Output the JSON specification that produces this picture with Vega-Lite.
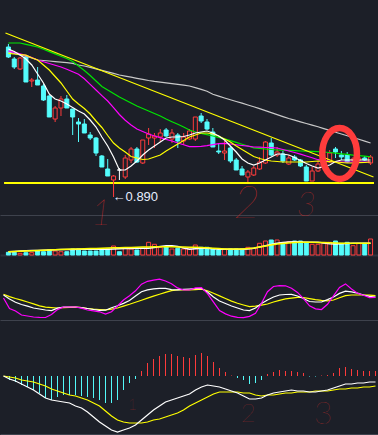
{
  "$schema": "https://vega.github.io/schema/vega-lite/v6.json",
  "background": "#1c1f28",
  "padding": 0,
  "spacing": 0,
  "bounds": "flush",
  "config": {
    "view": {"stroke": null},
    "axis": {"labels": false, "ticks": false, "domain": false, "grid": false, "title": null}
  },
  "datasets": {
    "k": [
      {"i":0,"o":1.025,"h":1.028,"l":1.014,"c":1.015,"m5":1.023,"m10":1.0187,"m20":1.0212,"m30":1.029,"m60":1.020,"v":270,"vm5":330,"vm10":330,"k":50,"d":52,"j":42.5,"dif":0,"dea":0,"macd":0},
      {"i":1,"o":1.013,"h":1.015,"l":1.003,"c":1.005,"m5":1.0205,"m10":1.018,"m20":1.0197,"m30":1.029,"m60":1.0186,"v":270,"vm5":360,"vm10":350,"k":40,"d":46,"j":16.25,"dif":-0.003,"dea":-0.001,"macd":-0.004},
      {"i":2,"o":1.003,"h":1.015,"l":1.002,"c":1.014,"m5":1.017,"m10":1.0175,"m20":1.0182,"m30":1.029,"m60":1.0172,"v":170,"vm5":390,"vm10":380,"k":31.75,"d":41.25,"j":10,"dif":-0.005,"dea":-0.002,"macd":-0.006},
      {"i":3,"o":1.015,"h":1.016,"l":0.990,"c":0.990,"m5":1.013,"m10":1.0168,"m20":1.0166,"m30":1.0277,"m60":1.0158,"v":230,"vm5":420,"vm10":400,"k":26.25,"d":37,"j":0,"dif":-0.008,"dea":-0.004,"macd":-0.009},
      {"i":4,"o":0.991,"h":0.994,"l":0.985,"c":0.992,"m5":1.007,"m10":1.0143,"m20":1.0145,"m30":1.0263,"m60":1.014,"v":230,"vm5":440,"vm10":430,"k":22,"d":32.5,"j":-2.5,"dif":-0.011,"dea":-0.005,"macd":-0.011},
      {"i":5,"o":0.992,"h":1.005,"l":0.987,"c":0.987,"m5":0.998,"m10":1.012,"m20":1.012,"m30":1.025,"m60":1.012,"v":400,"vm5":460,"vm10":450,"k":17.5,"d":27.75,"j":-5,"dif":-0.014,"dea":-0.006,"macd":-0.014},
      {"i":6,"o":0.986,"h":0.988,"l":0.971,"c":0.972,"m5":0.989,"m10":1.007,"m20":1.0102,"m30":1.0227,"m60":1.0115,"v":330,"vm5":480,"vm10":470,"k":15,"d":23,"j":-6,"dif":-0.018,"dea":-0.008,"macd":-0.017},
      {"i":7,"o":0.976,"h":0.977,"l":0.955,"c":0.955,"m5":0.978,"m10":1.002,"m20":1.0085,"m30":1.0204,"m60":1.011,"v":500,"vm5":500,"vm10":500,"k":12.5,"d":19.75,"j":-6.25,"dif":-0.022,"dea":-0.010,"macd":-0.022},
      {"i":8,"o":0.953,"h":0.966,"l":0.950,"c":0.964,"m5":0.973,"m10":0.9955,"m20":1.0067,"m30":1.0181,"m60":1.0104,"v":400,"vm5":520,"vm10":520,"k":11,"d":18.5,"j":1.25,"dif":-0.024,"dea":-0.013,"macd":-0.024},
      {"i":9,"o":0.964,"h":0.976,"l":0.956,"c":0.973,"m5":0.971,"m10":0.989,"m20":1.005,"m30":1.0158,"m60":1.0099,"v":330,"vm5":540,"vm10":550,"k":17,"d":17.5,"j":13.5,"dif":-0.025,"dea":-0.015,"macd":-0.021},
      {"i":10,"o":0.973,"h":0.977,"l":0.964,"c":0.964,"m5":0.968,"m10":0.981,"m20":1.0028,"m30":1.0135,"m60":1.0094,"v":330,"vm5":550,"vm10":570,"k":20,"d":18.25,"j":20,"dif":-0.026,"dea":-0.017,"macd":-0.019},
      {"i":11,"o":0.963,"h":0.963,"l":0.937,"c":0.955,"m5":0.9645,"m10":0.973,"m20":1.0003,"m30":1.0105,"m60":1.0086,"v":600,"vm5":560,"vm10":590,"k":20,"d":19,"j":20,"dif":-0.027,"dea":-0.019,"macd":-0.019},
      {"i":12,"o":0.950,"h":0.954,"l":0.930,"c":0.948,"m5":0.961,"m10":0.968,"m20":0.9978,"m30":1.006,"m60":1.007,"v":600,"vm5":570,"vm10":610,"k":20,"d":19.75,"j":20,"dif":-0.030,"dea":-0.020,"macd":-0.019},
      {"i":13,"o":0.948,"h":0.953,"l":0.939,"c":0.939,"m5":0.958,"m10":0.9635,"m20":0.9932,"m30":1.0015,"m60":1.006,"v":400,"vm5":570,"vm10":630,"k":18.5,"d":18.5,"j":17,"dif":-0.032,"dea":-0.022,"macd":-0.020},
      {"i":14,"o":0.937,"h":0.940,"l":0.932,"c":0.934,"m5":0.952,"m10":0.958,"m20":0.9876,"m30":0.9965,"m60":1.0047,"v":400,"vm5":570,"vm10":650,"k":16.25,"d":16.25,"j":12.5,"dif":-0.036,"dea":-0.024,"macd":-0.021},
      {"i":15,"o":0.934,"h":0.935,"l":0.916,"c":0.919,"m5":0.945,"m10":0.951,"m20":0.982,"m30":0.991,"m60":1.0032,"v":400,"vm5":570,"vm10":660,"k":13.75,"d":14.5,"j":10.25,"dif":-0.041,"dea":-0.027,"macd":-0.022},
      {"i":16,"o":0.916,"h":0.917,"l":0.905,"c":0.905,"m5":0.935,"m10":0.9445,"m20":0.9764,"m30":0.9855,"m60":1.0017,"v":600,"vm5":570,"vm10":680,"k":11.5,"d":13.75,"j":8,"dif":-0.046,"dea":-0.030,"macd":-0.024},
      {"i":17,"o":0.903,"h":0.913,"l":0.896,"c":0.896,"m5":0.926,"m10":0.9365,"m20":0.971,"m30":0.982,"m60":1.0001,"v":600,"vm5":580,"vm10":700,"k":12,"d":12.75,"j":2.5,"dif":-0.050,"dea":-0.035,"macd":-0.027},
      {"i":18,"o":0.892,"h":0.897,"l":0.890,"c":0.896,"m5":0.915,"m10":0.929,"m20":0.9644,"m30":0.9785,"m60":0.9986,"v":900,"vm5":600,"vm10":720,"k":18,"d":14.5,"j":8.25,"dif":-0.054,"dea":-0.040,"macd":-0.027},
      {"i":19,"o":0.902,"h":0.904,"l":0.892,"c":0.902,"m5":0.902,"m10":0.924,"m20":0.9575,"m30":0.975,"m60":0.997,"v":330,"vm5":620,"vm10":730,"k":23,"d":17.5,"j":22.5,"dif":-0.056,"dea":-0.044,"macd":-0.024},
      {"i":20,"o":0.895,"h":0.917,"l":0.893,"c":0.914,"m5":0.902,"m10":0.920,"m20":0.9517,"m30":0.972,"m60":0.9959,"v":670,"vm5":640,"vm10":740,"k":29,"d":22.25,"j":37.5,"dif":-0.054,"dea":-0.046,"macd":-0.014},
      {"i":21,"o":0.912,"h":0.925,"l":0.909,"c":0.923,"m5":0.906,"m10":0.9155,"m20":0.947,"m30":0.969,"m60":0.9948,"v":600,"vm5":660,"vm10":760,"k":36.25,"d":26.75,"j":48,"dif":-0.052,"dea":-0.047,"macd":-0.007},
      {"i":22,"o":0.923,"h":0.925,"l":0.909,"c":0.910,"m5":0.911,"m10":0.914,"m20":0.943,"m30":0.966,"m60":0.9937,"v":500,"vm5":670,"vm10":780,"k":47.5,"d":31.75,"j":60.5,"dif":-0.049,"dea":-0.047,"macd":-0.003},
      {"i":23,"o":0.909,"h":0.932,"l":0.908,"c":0.932,"m5":0.917,"m10":0.9125,"m20":0.9405,"m30":0.9635,"m60":0.9926,"v":670,"vm5":670,"vm10":800,"k":58.25,"d":37,"j":77,"dif":-0.044,"dea":-0.047,"macd":0.005},
      {"i":24,"o":0.934,"h":0.944,"l":0.927,"c":0.938,"m5":0.922,"m10":0.913,"m20":0.938,"m30":0.961,"m60":0.9915,"v":1270,"vm5":670,"vm10":810,"k":62.75,"d":42.25,"j":84.25,"dif":-0.039,"dea":-0.046,"macd":0.013},
      {"i":25,"o":0.934,"h":0.939,"l":0.924,"c":0.936,"m5":0.926,"m10":0.915,"m20":0.936,"m30":0.9585,"m60":0.9906,"v":1070,"vm5":750,"vm10":820,"k":65.5,"d":47.25,"j":87,"dif":-0.034,"dea":-0.044,"macd":0.017},
      {"i":26,"o":0.935,"h":0.943,"l":0.930,"c":0.939,"m5":0.930,"m10":0.917,"m20":0.9344,"m30":0.956,"m60":0.9899,"v":770,"vm5":850,"vm10":830,"k":66.75,"d":51.75,"j":89.5,"dif":-0.030,"dea":-0.043,"macd":0.020},
      {"i":27,"o":0.942,"h":0.944,"l":0.935,"c":0.936,"m5":0.934,"m10":0.921,"m20":0.9326,"m30":0.953,"m60":0.9891,"v":830,"vm5":930,"vm10":830,"k":66.5,"d":56.5,"j":85,"dif":-0.026,"dea":-0.041,"macd":0.022},
      {"i":28,"o":0.933,"h":0.943,"l":0.929,"c":0.939,"m5":0.935,"m10":0.9245,"m20":0.931,"m30":0.9503,"m60":0.9884,"v":600,"vm5":930,"vm10":820,"k":63.5,"d":61,"j":78.25,"dif":-0.024,"dea":-0.039,"macd":0.022},
      {"i":29,"o":0.937,"h":0.939,"l":0.924,"c":0.931,"m5":0.935,"m10":0.928,"m20":0.929,"m30":0.9477,"m60":0.9876,"v":670,"vm5":850,"vm10":810,"k":63,"d":62.5,"j":67.75,"dif":-0.022,"dea":-0.037,"macd":0.020},
      {"i":30,"o":0.931,"h":0.939,"l":0.927,"c":0.935,"m5":0.9355,"m10":0.9315,"m20":0.9273,"m30":0.945,"m60":0.9869,"v":600,"vm5":700,"vm10":800,"k":64,"d":62.5,"j":62.5,"dif":-0.020,"dea":-0.034,"macd":0.019},
      {"i":31,"o":0.933,"h":0.943,"l":0.932,"c":0.941,"m5":0.937,"m10":0.935,"m20":0.9254,"m30":0.942,"m60":0.986,"v":600,"vm5":580,"vm10":780,"k":65,"d":62.5,"j":62.5,"dif":-0.018,"dea":-0.030,"macd":0.018},
      {"i":32,"o":0.933,"h":0.955,"l":0.931,"c":0.955,"m5":0.939,"m10":0.937,"m20":0.9253,"m30":0.940,"m60":0.9844,"v":1000,"vm5":620,"vm10":770,"k":66.25,"d":63.5,"j":67.75,"dif":-0.014,"dea":-0.027,"macd":0.021},
      {"i":33,"o":0.956,"h":0.959,"l":0.949,"c":0.951,"m5":0.940,"m10":0.939,"m20":0.9257,"m30":0.9386,"m60":0.9826,"v":770,"vm5":670,"vm10":750,"k":66,"d":64.5,"j":68.25,"dif":-0.011,"dea":-0.024,"macd":0.023},
      {"i":34,"o":0.950,"h":0.953,"l":0.942,"c":0.943,"m5":0.941,"m10":0.939,"m20":0.9263,"m30":0.9373,"m60":0.9807,"v":770,"vm5":670,"vm10":720,"k":57.5,"d":60.75,"j":53.25,"dif":-0.009,"dea":-0.021,"macd":0.020},
      {"i":35,"o":0.940,"h":0.944,"l":0.925,"c":0.925,"m5":0.939,"m10":0.938,"m20":0.9273,"m30":0.936,"m60":0.9778,"v":600,"vm5":620,"vm10":680,"k":45,"d":54.25,"j":32,"dif":-0.010,"dea":-0.018,"macd":0.014},
      {"i":36,"o":0.921,"h":0.928,"l":0.918,"c":0.920,"m5":0.936,"m10":0.936,"m20":0.9284,"m30":0.9347,"m60":0.9759,"v":500,"vm5":570,"vm10":640,"k":35,"d":47.75,"j":11,"dif":-0.011,"dea":-0.016,"macd":0.008},
      {"i":37,"o":0.919,"h":0.931,"l":0.912,"c":0.921,"m5":0.932,"m10":0.933,"m20":0.9286,"m30":0.9331,"m60":0.974,"v":600,"vm5":570,"vm10":600,"k":28.75,"d":41.25,"j":2.75,"dif":-0.013,"dea":-0.016,"macd":0.004},
      {"i":38,"o":0.924,"h":0.926,"l":0.909,"c":0.911,"m5":0.926,"m10":0.930,"m20":0.928,"m30":0.9314,"m60":0.9722,"v":600,"vm5":570,"vm10":600,"k":22.5,"d":34.75,"j":-3,"dif":-0.015,"dea":-0.016,"macd":0.0005},
      {"i":39,"o":0.912,"h":0.914,"l":0.902,"c":0.902,"m5":0.920,"m10":0.926,"m20":0.9272,"m30":0.9296,"m60":0.9705,"v":600,"vm5":570,"vm10":600,"k":17.5,"d":29.5,"j":-5.75,"dif":-0.017,"dea":-0.016,"macd":-0.002},
      {"i":40,"o":0.903,"h":0.906,"l":0.897,"c":0.897,"m5":0.913,"m10":0.9225,"m20":0.9265,"m30":0.9278,"m60":0.9688,"v":600,"vm5":570,"vm10":600,"k":12.5,"d":25,"j":-6.75,"dif":-0.020,"dea":-0.017,"macd":-0.004},
      {"i":41,"o":0.895,"h":0.902,"l":0.890,"c":0.900,"m5":0.909,"m10":0.919,"m20":0.9258,"m30":0.926,"m60":0.967,"v":770,"vm5":600,"vm10":650,"k":11,"d":20.75,"j":-3.5,"dif":-0.023,"dea":-0.017,"macd":-0.008},
      {"i":42,"o":0.897,"h":0.906,"l":0.896,"c":0.904,"m5":0.907,"m10":0.9155,"m20":0.925,"m30":0.9242,"m60":0.9653,"v":670,"vm5":670,"vm10":700,"k":17.5,"d":22.25,"j":4.5,"dif":-0.023,"dea":-0.019,"macd":-0.007},
      {"i":43,"o":0.903,"h":0.915,"l":0.902,"c":0.910,"m5":0.909,"m10":0.9135,"m20":0.9248,"m30":0.9236,"m60":0.9634,"v":1170,"vm5":800,"vm10":800,"k":28.75,"d":24.75,"j":29.25,"dif":-0.022,"dea":-0.020,"macd":-0.004},
      {"i":44,"o":0.909,"h":0.931,"l":0.908,"c":0.930,"m5":0.912,"m10":0.912,"m20":0.9245,"m30":0.923,"m60":0.9614,"v":1400,"vm5":930,"vm10":900,"k":37.5,"d":27.5,"j":58.25,"dif":-0.019,"dea":-0.019,"macd":0.002},
      {"i":45,"o":0.929,"h":0.934,"l":0.916,"c":0.917,"m5":0.915,"m10":0.911,"m20":0.9243,"m30":0.9225,"m60":0.9594,"v":1500,"vm5":1050,"vm10":1000,"k":45,"d":32.5,"j":71.25,"dif":-0.017,"dea":-0.019,"macd":0.004},
      {"i":46,"o":0.917,"h":0.925,"l":0.915,"c":0.920,"m5":0.918,"m10":0.9105,"m20":0.924,"m30":0.922,"m60":0.9574,"v":1500,"vm5":1170,"vm10":1100,"k":50,"d":36.75,"j":73.5,"dif":-0.016,"dea":-0.018,"macd":0.006},
      {"i":47,"o":0.918,"h":0.921,"l":0.909,"c":0.911,"m5":0.918,"m10":0.910,"m20":0.9225,"m30":0.9218,"m60":0.9554,"v":1170,"vm5":1250,"vm10":1150,"k":51.25,"d":40.5,"j":73,"dif":-0.015,"dea":-0.017,"macd":0.005},
      {"i":48,"o":0.908,"h":0.917,"l":0.907,"c":0.914,"m5":0.917,"m10":0.910,"m20":0.921,"m30":0.9216,"m60":0.9535,"v":1330,"vm5":1310,"vm10":1200,"k":51.75,"d":42.25,"j":67,"dif":-0.014,"dea":-0.017,"macd":0.005},
      {"i":49,"o":0.915,"h":0.917,"l":0.911,"c":0.912,"m5":0.9145,"m10":0.910,"m20":0.9195,"m30":0.9213,"m60":0.9519,"v":1400,"vm5":1330,"vm10":1240,"k":47.5,"d":44,"j":56.5,"dif":-0.015,"dea":-0.016,"macd":0.004},
      {"i":50,"o":0.912,"h":0.913,"l":0.905,"c":0.906,"m5":0.9115,"m10":0.910,"m20":0.9178,"m30":0.921,"m60":0.9502,"v":1400,"vm5":1300,"vm10":1270,"k":41.25,"d":43.75,"j":41,"dif":-0.015,"dea":-0.016,"macd":0.003},
      {"i":51,"o":0.905,"h":0.907,"l":0.891,"c":0.891,"m5":0.9085,"m10":0.910,"m20":0.916,"m30":0.9208,"m60":0.9485,"v":1270,"vm5":1270,"vm10":1270,"k":33.75,"d":41,"j":23,"dif":-0.016,"dea":-0.016,"macd":-0.0005},
      {"i":52,"o":0.891,"h":0.905,"l":0.891,"c":0.901,"m5":0.906,"m10":0.9105,"m20":0.9142,"m30":0.9206,"m60":0.9469,"v":1070,"vm5":1270,"vm10":1270,"k":32.5,"d":38.5,"j":15.5,"dif":-0.016,"dea":-0.015,"macd":-0.0005},
      {"i":53,"o":0.901,"h":0.911,"l":0.900,"c":0.908,"m5":0.904,"m10":0.911,"m20":0.9123,"m30":0.9203,"m60":0.9453,"v":1070,"vm5":1270,"vm10":1260,"k":32.5,"d":36.75,"j":13.75,"dif":-0.015,"dea":-0.015,"macd":0.0005},
      {"i":54,"o":0.909,"h":0.915,"l":0.906,"c":0.912,"m5":0.9055,"m10":0.9107,"m20":0.9114,"m30":0.920,"m60":0.9434,"v":1170,"vm5":1200,"vm10":1240,"k":38.5,"d":35.5,"j":26.75,"dif":-0.014,"dea":-0.015,"macd":0.001},
      {"i":55,"o":0.910,"h":0.922,"l":0.909,"c":0.919,"m5":0.907,"m10":0.9103,"m20":0.9107,"m30":0.9195,"m60":0.9416,"v":1270,"vm5":1120,"vm10":1220,"k":45,"d":37.5,"j":48,"dif":-0.012,"dea":-0.014,"macd":0.003},
      {"i":56,"o":0.923,"h":0.925,"l":0.914,"c":0.920,"m5":0.9105,"m10":0.910,"m20":0.910,"m30":0.9189,"m60":0.9398,"v":1400,"vm5":1100,"vm10":1200,"k":54,"d":43,"j":69,"dif":-0.010,"dea":-0.013,"macd":0.008},
      {"i":57,"o":0.917,"h":0.921,"l":0.912,"c":0.915,"m5":0.912,"m10":0.9095,"m20":0.910,"m30":0.9182,"m60":0.938,"v":1170,"vm5":1130,"vm10":1180,"k":59.5,"d":48.25,"j":77.75,"dif":-0.008,"dea":-0.013,"macd":0.009},
      {"i":58,"o":0.917,"h":0.920,"l":0.909,"c":0.910,"m5":0.912,"m10":0.909,"m20":0.910,"m30":0.9176,"m60":0.9362,"v":1270,"vm5":1160,"vm10":1170,"k":58,"d":50,"j":65,"dif":-0.008,"dea":-0.012,"macd":0.007},
      {"i":59,"o":0.912,"h":0.915,"l":0.910,"c":0.913,"m5":0.912,"m10":0.909,"m20":0.910,"m30":0.9169,"m60":0.9344,"v":930,"vm5":1170,"vm10":1170,"k":54.5,"d":50,"j":54.5,"dif":-0.007,"dea":-0.012,"macd":0.006},
      {"i":60,"o":0.912,"h":0.917,"l":0.910,"c":0.914,"m5":0.912,"m10":0.9093,"m20":0.910,"m30":0.9164,"m60":0.9328,"v":1170,"vm5":1170,"vm10":1170,"k":50,"d":50,"j":49.25,"dif":-0.007,"dea":-0.011,"macd":0.005},
      {"i":61,"o":0.914,"h":0.916,"l":0.911,"c":0.912,"m5":0.912,"m10":0.9095,"m20":0.910,"m30":0.9158,"m60":0.9309,"v":1170,"vm5":1170,"vm10":1170,"k":46.75,"d":49.5,"j":43.5,"dif":-0.006,"dea":-0.011,"macd":0.005},
      {"i":62,"o":0.909,"h":0.917,"l":0.907,"c":0.915,"m5":0.912,"m10":0.910,"m20":0.910,"m30":0.9152,"m60":0.929,"v":1600,"vm5":1170,"vm10":1170,"k":45,"d":48.25,"j":44,"dif":-0.006,"dea":-0.010,"macd":0.005}
    ],
    "trend": [{"i":-0.5,"p":1.039},{"i":62.5,"p":0.895}]
  },
  "vconcat": [
    {
      "width": 378,
      "height": 215,
      "data": {"name": "k"},
      "encoding": {
        "x": {"field": "i", "type": "quantitative", "scale": {"domain": [-0.5833, 62.4167], "nice": false, "zero": false},
              "axis": {"orient": "bottom", "domain": true, "domainColor": "#3e424d", "domainWidth": 1}, "title": null}
      },
      "layer": [
        {
          "mark": {"type": "rule", "strokeWidth": 1},
          "encoding": {
            "y": {"field": "l", "type": "quantitative", "scale": {"domain": [0.857, 1.072], "nice": false, "zero": false},
                  "axis": {"grid": true, "values": [1.062, 1.025, 0.988, 0.950, 0.913, 0.876], "gridColor": "#4c515e", "gridDash": [1, 4], "gridWidth": 1}, "title": null},
            "y2": {"field": "h"},
            "color": {"condition": [{"test": "datum.c > datum.o", "value": "#ff3c3c"}, {"test": "datum.c == datum.o", "value": "#ffffff"}], "value": "#54fcfc"}
          }
        },
        {
          "mark": {"type": "bar", "size": 4, "strokeWidth": 1},
          "encoding": {
            "y": {"field": "o", "type": "quantitative", "axis": null},
            "y2": {"field": "c"},
            "fill": {"condition": [{"test": "datum.c > datum.o", "value": "#1c1f28"}, {"test": "datum.c == datum.o", "value": "#ffffff"}], "value": "#54fcfc"},
            "stroke": {"condition": [{"test": "datum.c > datum.o", "value": "#ff3c3c"}, {"test": "datum.c == datum.o", "value": "#ffffff"}], "value": "#54fcfc"}
          }
        },
        {"mark": {"type": "line", "color": "#c8c8c8", "strokeWidth": 1.2}, "encoding": {"y": {"field": "m60", "type": "quantitative", "axis": null}}},
        {"mark": {"type": "line", "color": "#00e600", "strokeWidth": 1.2}, "encoding": {"y": {"field": "m30", "type": "quantitative", "axis": null}}},
        {"mark": {"type": "line", "color": "#ff00ff", "strokeWidth": 1.2}, "encoding": {"y": {"field": "m20", "type": "quantitative", "axis": null}}},
        {"mark": {"type": "line", "color": "#ffff00", "strokeWidth": 1.2}, "encoding": {"y": {"field": "m10", "type": "quantitative", "axis": null}}},
        {"mark": {"type": "line", "color": "#ffffff", "strokeWidth": 1.2}, "encoding": {"y": {"field": "m5", "type": "quantitative", "axis": null}}},
        {"data": {"name": "trend"}, "mark": {"type": "line", "color": "#ffff00", "strokeWidth": 1.2}, "encoding": {"y": {"field": "p", "type": "quantitative", "axis": null}}},
        {"mark": {"type": "rule", "color": "#ffff00", "strokeWidth": 1.5}, "encoding": {"y": {"datum": 0.889}, "x": {"datum": -0.6}, "x2": {"datum": 62.5}}},
        {"data": {"values": [{"i": 18, "p1": 0.890, "p2": 0.875}]}, "mark": {"type": "rule", "color": "#ff3c3c", "strokeWidth": 1}, "encoding": {"y": {"field": "p1", "type": "quantitative", "axis": null}, "y2": {"field": "p2"}}},
        {"data": {"values": [{"i": 18, "p": 0.875, "t": "←0.890"}]}, "mark": {"type": "text", "align": "left", "baseline": "middle", "dx": -1, "font": "Liberation Sans", "fontSize": 13, "color": "#e6eeff"}, "encoding": {"y": {"field": "p", "type": "quantitative", "axis": null}, "text": {"field": "t"}}},
        {"data": {"values": [{"i": 15.9, "p": 0.858, "t": "1"}]}, "mark": {"type": "text", "align": "center", "baseline": "middle", "font": "DejaVu Sans ExtraLight, Lato, DejaVu Sans", "fontWeight": 200, "fontStyle": "italic", "fontSize": 36, "color": "#d02c2c"}, "encoding": {"y": {"field": "p", "type": "quantitative", "axis": null}, "text": {"field": "t"}}},
        {"data": {"values": [{"i": 40.8, "p": 0.868, "t": "2"}]}, "mark": {"type": "text", "align": "center", "baseline": "middle", "font": "DejaVu Sans ExtraLight, Lato, DejaVu Sans", "fontWeight": 200, "fontStyle": "italic", "fontSize": 46, "color": "#b82a2a"}, "encoding": {"y": {"field": "p", "type": "quantitative", "axis": null}, "text": {"field": "t"}}},
        {"data": {"values": [{"i": 51, "p": 0.866, "t": "3"}]}, "mark": {"type": "text", "align": "center", "baseline": "middle", "font": "DejaVu Sans ExtraLight, Lato, DejaVu Sans", "fontWeight": 200, "fontStyle": "italic", "fontSize": 34, "color": "#b02a2a"}, "encoding": {"y": {"field": "p", "type": "quantitative", "axis": null}, "text": {"field": "t"}}},
        {"data": {"values": [{"i": 56.7, "p": 0.9185}]}, "mark": {"type": "point", "shape": "M-0.68,0A0.68,1,0,1,0,0.68,0A0.68,1,0,1,0,-0.68,0Z", "size": 2600, "filled": false, "stroke": "#ff3c3c", "strokeWidth": 6.5, "opacity": 1}, "encoding": {"y": {"field": "p", "type": "quantitative", "axis": null}}}
      ]
    },
    {
      "width": 378,
      "height": 40,
      "data": {"name": "k"},
      "encoding": {
        "x": {"field": "i", "type": "quantitative", "scale": {"domain": [-0.5833, 62.4167], "nice": false, "zero": false},
              "axis": {"orient": "bottom", "domain": true, "domainColor": "#2e323c", "domainWidth": 2}, "title": null}
      },
      "layer": [
        {
          "mark": {"type": "bar", "size": 4, "strokeWidth": 1},
          "encoding": {
            "y": {"field": "v", "type": "quantitative", "scale": {"domain": [0, 4000], "nice": false},
                  "axis": {"grid": true, "values": [1400], "gridColor": "#4c515e", "gridDash": [1, 4]}, "title": null},
            "fill": {"condition": {"test": "datum.c > datum.o", "value": "#1c1f28"}, "value": "#54fcfc"},
            "stroke": {"condition": {"test": "datum.c > datum.o", "value": "#ff3c3c"}, "value": "#54fcfc"}
          }
        },
        {"mark": {"type": "line", "color": "#ffffff", "strokeWidth": 1.5}, "encoding": {"y": {"field": "vm5", "type": "quantitative", "axis": null}}},
        {"mark": {"type": "line", "color": "#ffff00", "strokeWidth": 1.5}, "encoding": {"y": {"field": "vm10", "type": "quantitative", "axis": null}}}
      ]
    },
    {
      "width": 378,
      "height": 65,
      "data": {"name": "k"},
      "encoding": {
        "x": {"field": "i", "type": "quantitative", "scale": {"domain": [-0.5833, 62.4167], "nice": false, "zero": false},
              "axis": {"orient": "bottom", "domain": true, "domainColor": "#3e424d", "domainWidth": 1}, "title": null}
      },
      "layer": [
        {"mark": {"type": "line", "color": "#ffff00", "strokeWidth": 1.2},
         "encoding": {"y": {"field": "d", "type": "quantitative", "scale": {"domain": [-12.5, 150], "nice": false, "zero": false},
                            "axis": {"grid": true, "values": [20, 50, 80], "gridColor": "#4c515e", "gridDash": [1, 4]}, "title": null}}},
        {"mark": {"type": "line", "color": "#ffffff", "strokeWidth": 1.2}, "encoding": {"y": {"field": "k", "type": "quantitative", "axis": null}}},
        {"mark": {"type": "line", "color": "#ff00ff", "strokeWidth": 1.2}, "encoding": {"y": {"field": "j", "type": "quantitative", "axis": null}}}
      ]
    },
    {
      "width": 378,
      "height": 114,
      "data": {"name": "k"},
      "encoding": {
        "x": {"field": "i", "type": "quantitative", "scale": {"domain": [-0.5833, 62.4167], "nice": false, "zero": false},
              "axis": {"orient": "bottom", "domain": true, "domainColor": "#3e424d", "domainWidth": 1}, "title": null}
      },
      "layer": [
        {"mark": {"type": "rule", "strokeWidth": 1},
         "encoding": {"y": {"field": "macd", "type": "quantitative", "scale": {"domain": [-0.058, 0.056], "nice": false, "zero": false},
                            "axis": {"grid": true, "values": [-0.0245, 0.0245], "gridColor": "#4c515e", "gridDash": [1, 4]}, "title": null},
                      "y2": {"datum": 0},
                      "color": {"condition": {"test": "datum.macd >= 0", "value": "#ff3c3c"}, "value": "#54fcfc"}}},
        {"mark": {"type": "line", "color": "#ffff00", "strokeWidth": 1.2}, "encoding": {"y": {"field": "dea", "type": "quantitative", "axis": null}}},
        {"mark": {"type": "line", "color": "#ffffff", "strokeWidth": 1.2}, "encoding": {"y": {"field": "dif", "type": "quantitative", "axis": null}}},
        {"data": {"values": [{"i": 21.5, "p": -0.029, "t": "1"}]}, "mark": {"type": "text", "align": "center", "baseline": "middle", "font": "DejaVu Sans ExtraLight, Lato, DejaVu Sans", "fontWeight": 200, "fontSize": 16, "color": "#9c2a2a"}, "encoding": {"y": {"field": "p", "type": "quantitative", "axis": null}, "text": {"field": "t"}}},
        {"data": {"values": [{"i": 40.8, "p": -0.038, "t": "2"}]}, "mark": {"type": "text", "align": "center", "baseline": "middle", "font": "DejaVu Sans ExtraLight, Lato, DejaVu Sans", "fontWeight": 200, "fontSize": 26, "color": "#9c2a2a"}, "encoding": {"y": {"field": "p", "type": "quantitative", "axis": null}, "text": {"field": "t"}}},
        {"data": {"values": [{"i": 53.3, "p": -0.038, "t": "3"}]}, "mark": {"type": "text", "align": "center", "baseline": "middle", "font": "DejaVu Sans ExtraLight, Lato, DejaVu Sans", "fontWeight": 200, "fontSize": 32, "color": "#9c2a2a"}, "encoding": {"y": {"field": "p", "type": "quantitative", "axis": null}, "text": {"field": "t"}}}
      ]
    }
  ]
}
